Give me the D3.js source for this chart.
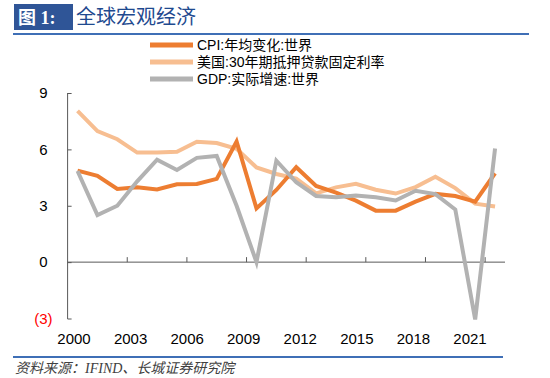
<!DOCTYPE html>
<html>
<head>
<meta charset="utf-8">
<script src="https://cdn.jsdelivr.net/npm/d3@7"></script>
<style>
  body { margin: 0; background: #fff; }
  svg { display: block; }
</style>
</head>
<body>
<div id="chart"></div>
<script>
// data
var years = d3.range(2000, 2022);
var cpi = [4.87, 4.59, 3.89, 3.98, 3.87, 4.14, 4.16, 4.43, 6.42, 2.86, 3.84, 5.05,
           4.05, 3.70, 3.27, 2.74, 2.74, 3.22, 3.63, 3.52, 3.22, 4.73];
var mortgage = [8.05, 6.97, 6.54, 5.83, 5.84, 5.87, 6.41, 6.34, 6.03, 5.04, 4.69, 4.45,
                3.66, 3.98, 4.17, 3.85, 3.65, 3.99, 4.54, 3.94, 3.11, 2.96];
var gdp = [4.85, 2.50, 3.00, 4.30, 5.45, 4.90, 5.55, 5.65, 3.00, 0.00, 5.40, 4.25,
           3.52, 3.45, 3.55, 3.45, 3.28, 3.80, 3.62, 2.80, -3.05, 6.05];
var yTicks = [-3, 0, 3, 6, 9];
var xLabels = ['2000', '2003', '2006', '2009', '2012', '2015', '2018', '2021'];
var seriesNames = ['CPI:年均变化:世界', '美国:30年期抵押贷款固定利率', 'GDP:实际增速:世界'];
var seriesColors = ['#ED7D31', '#F7BE91', '#B2B2B2'];

var W = 550, H = 378;
var svg = d3.select('#chart').append('svg')
    .attr('width', W)
    .attr('height', H)
    .style('font-family', '"Liberation Sans", Arial, "Noto Sans CJK SC", sans-serif');

// header
svg.append('rect')
    .attr('x', 14).attr('y', 4)
    .attr('width', 59).attr('height', 26)
    .style('fill', '#2F5597');
svg.append('text')
    .attr('x', 18).attr('y', 24)
    .style('fill', '#fff')
    .style('font-size', '18px')
    .style('font-weight', 'bold')
    .style('font-family', '"Liberation Serif", "Noto Sans CJK SC", serif')
    .text('图 1:');
svg.append('text')
    .attr('x', 76).attr('y', 24)
    .style('fill', '#1F4A8F')
    .style('font-size', '20px')
    .style('font-family', '"Noto Sans CJK SC", sans-serif')
    .text('全球宏观经济');
svg.append('line')
    .attr('x1', 13).attr('x2', 529)
    .attr('y1', 34).attr('y2', 34)
    .style('stroke', '#3F6FB6')
    .style('stroke-width', 2);

// scales
var x = d3.scaleBand()
    .domain(years)
    .range([67.6, 505]);

var y = d3.scaleLinear()
    .domain([-3, 9])
    .range([318.5, 93]);

var labelX = d3.scalePoint()
    .domain(xLabels)
    .range([74, 470]);

// y axis
var yAxis = d3.axisLeft(y)
    .tickValues(yTicks)
    .tickSize(-4)
    .tickPadding(15)
    .tickFormat(function(d) { return d < 0 ? '(' + Math.abs(d) + ')' : d; });

var yGuide = svg.append('g')
    .attr('transform', 'translate(' + x.range()[0] + ',0)')
    .call(yAxis);
yGuide.select('.domain')
    .attr('d', 'M0,' + y(9) + 'V' + (y(-3) + 0.5))
    .style('stroke', '#595959');
yGuide.selectAll('line').style('stroke', '#595959');
yGuide.selectAll('text')
    .style('font-size', '15px')
    .style('font-family', '"Liberation Sans", Arial, sans-serif')
    .style('fill', function(d) { return d < 0 ? '#FF0000' : '#000'; })
    .attr('dx', function(d) { return d < 0 ? 0 : -5; });

// zero line with ticks every 3 years
var zeroAxis = d3.axisTop(x)
    .tickValues(years.filter(function(d, i) { return i > 0 && i % 3 === 0; }))
    .tickSize(5)
    .tickSizeOuter(0)
    .tickFormat('')
    .offset(0);
var zGuide = svg.append('g')
    .attr('transform', 'translate(' + (-x.bandwidth() / 2) + ',' + y(0) + ')')
    .call(zeroAxis);
zGuide.select('.domain')
    .attr('d', 'M' + (x.range()[0] + x.bandwidth() / 2) + ',0H' + (x.range()[1] + x.bandwidth() / 2))
    .style('stroke', '#595959');
zGuide.selectAll('line').style('stroke', '#595959');

// x labels
svg.append('g').selectAll('text')
    .data(xLabels)
    .enter().append('text')
    .attr('x', function(d) { return labelX(d); })
    .attr('y', 344)
    .attr('text-anchor', 'middle')
    .style('font-size', '15px')
    .style('fill', '#000')
    .text(function(d) { return d; });

// lines
var line = d3.line()
    .x(function(d, i) { return x(years[i]) + x.bandwidth() / 2; })
    .y(function(d) { return y(d); });

var allSeries = [mortgage, cpi, gdp];
var order = [1, 0, 2];
svg.append('g').selectAll('path')
    .data(allSeries)
    .enter().append('path')
    .attr('d', function(d) { return line(d); })
    .style('fill', 'none')
    .style('stroke', function(d, i) { return seriesColors[order[i]]; })
    .style('stroke-width', 4)
    .style('stroke-linejoin', 'miter');

// legend
var legend = svg.append('g').selectAll('g')
    .data(seriesNames)
    .enter().append('g')
    .attr('transform', function(d, i) { return 'translate(150,' + (45 + i * 17) + ')'; });
legend.append('line')
    .attr('x1', 0).attr('x2', 43)
    .style('stroke', function(d, i) { return seriesColors[i]; })
    .style('stroke-width', 5);
legend.append('text')
    .attr('x', 47)
    .attr('dy', '0.36em')
    .style('font-size', '14px')
    .style('fill', '#000')
    .text(function(d) { return d; });

// footer
svg.append('line')
    .attr('x1', 13).attr('x2', 503)
    .attr('y1', 357).attr('y2', 357)
    .style('stroke', '#3F6FB6')
    .style('stroke-width', 2);
svg.append('text')
    .attr('x', 15).attr('y', 373)
    .style('font-size', '14px')
    .style('font-style', 'italic')
    .style('fill', '#404040')
    .style('font-family', '"Liberation Serif", "Noto Sans CJK SC", serif')
    .text('资料来源：IFIND、长城证券研究院');
</script>
</body>
</html>
